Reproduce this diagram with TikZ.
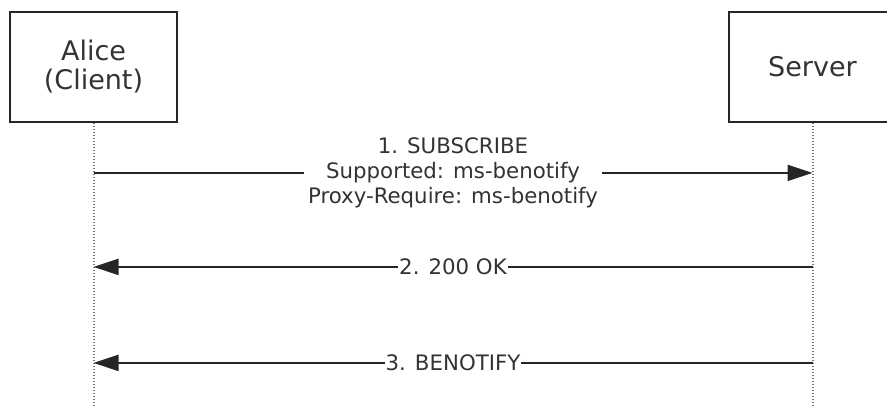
\documentclass[tikz,border=0pt]{standalone}
\usepackage{fontspec}
\setmainfont{DejaVu Sans}
\usetikzlibrary{positioning}
\usetikzlibrary{arrows.meta}
\colorlet{line colour}{black!85}
\colorlet{life colour}{black!55}
\colorlet{text colour}{black!80}
\tikzset{
    % Solid filled heads, as in the chart
    >={Triangle[length=25pt, width=16pt]},
%
    % Participant boxes and their lifelines
    party/.style={draw=line colour, line width=1.8pt, text=text colour,
        minimum width=167pt, minimum height=110pt, align=center,
        font=\fontsize{27}{29}\selectfont},
    lifeline/.style={draw=life colour, line width=2pt,
        dash pattern=on 1.5pt off 1.5pt},
%
    % Messages and their labels
    message/.style={color=line colour, line width=2pt, ->},
    msg label/.style={fill=white, text=text colour, align=center,
        inner sep=1pt, font=\fontsize{21.3}{25}\selectfont},
}

\begin{document}
\begin{tikzpicture}[x=1pt, y=-1pt]
\useasboundingbox (0,0) rectangle (887,405);

% Participants
\path
    (93.5,67) node [party] (alice) {Alice\\(Client)}
    (812.5,67) node [party] (server) {Server};

\path
    (alice.south) ++(0,283) coordinate (alice end)
    (server.south) ++(0,283) coordinate (server end);
\draw [lifeline] (alice.south) -- (alice end);
\draw [lifeline] (server.south) -- (server end);

% Points on the lifelines where the messages leave and arrive
\path
    (alice.south) ++(0,50) coordinate (sub from)
    (server.south) ++(0,50) coordinate (sub to)
    (server.south) ++(0,144) coordinate (ok from)
    (alice.south) ++(0,144) coordinate (ok to)
    (server.south) ++(0,240) coordinate (notify from)
    (alice.south) ++(0,240) coordinate (notify to);

\draw [message] (sub from) -- (sub to)
    node [midway, msg label, inner sep=4pt]
        {1. SUBSCRIBE\\Supported: ms-benotify\\Proxy-Require: ms-benotify};
\draw [message] (ok from) -- (ok to)
    node [midway, msg label] {2. 200 OK};
\draw [message] (notify from) -- (notify to)
    node [midway, msg label] {3. BENOTIFY};

\end{tikzpicture}
\end{document}
